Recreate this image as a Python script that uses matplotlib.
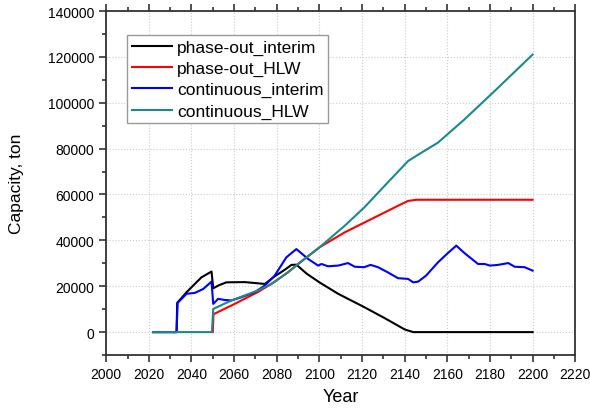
import matplotlib.pyplot as plt
from matplotlib.ticker import MultipleLocator

plt.rcParams.update({
    "font.family": ["Liberation Sans", "DejaVu Sans"],
    "font.size": 10,
})

# phase-out_interim
po_int_year = [2022, 2033, 2033.3, 2037.7, 2044.7, 2049.4, 2050.2, 2053, 2056.4, 2065,
               2074.4, 2079, 2083.8, 2086.9, 2089.2, 2094, 2100, 2108.8, 2121,
               2130.6, 2140, 2144, 2200]
po_int_val = [0, 0, 12750, 17400, 23900, 26400, 19100, 20500, 21700, 21800,
              21000, 24300, 27200, 29300, 29400, 25500, 21700, 16700, 10900,
              6100, 1160, 0, 0]

# phase-out_HLW
po_hlw_year = [2050, 2050.3, 2058.75, 2071, 2077.5, 2085.3, 2090, 2100, 2111.9,
               2124.4, 2136.9, 2141.6, 2145.5, 2200]
po_hlw_val = [0, 7800, 11600, 17400, 21000, 26100, 29700, 36950, 43500,
              49300, 55100, 57200, 57700, 57700]

# continuous_interim
co_int_year = [2022, 2033, 2033.5, 2037.7, 2041.6, 2045.5, 2049.4, 2050.2, 2052.5,
               2055.6, 2058.7, 2063.4, 2069.7, 2074.4, 2079, 2084.5, 2089.2,
               2094.7, 2099.4, 2101, 2104, 2108.8, 2113.4, 2116.6, 2121, 2124,
               2127.5, 2132, 2136.9, 2141.6, 2144, 2146.3, 2150, 2155.6, 2160.3,
               2164.2, 2168, 2174.4, 2177.5, 2180, 2183.75, 2188.6, 2191.6,
               2196.25, 2200]
co_int_val = [0, 0, 12750, 16700, 17100, 18800, 22000, 12300, 14500,
              14000, 13800, 15200, 17400, 20300, 24600, 32600, 36200,
              31900, 29000, 29700, 28700, 29000, 30100, 28500, 28300, 29300,
              28300, 26100, 23500, 23200, 21700, 22000, 24600, 30400, 34500,
              37700, 34500, 29700, 29700, 29000, 29300, 30100, 28500,
              28300, 26800]

# continuous_HLW
co_hlw_year = [2022, 2049.6, 2050.2, 2058.75, 2071, 2077.5, 2085.3, 2090, 2100,
               2111.9, 2121, 2130.6, 2141.6, 2147.8, 2155.6, 2168, 2183.75, 2200]
co_hlw_val = [0, 0, 10100, 13800, 18100, 21000, 26100, 29700, 36900,
              46400, 54300, 63800, 74600, 78200, 82600, 92700, 106500, 121000]

AXIS = "#333333"

fig = plt.figure(figsize=(5.9, 4.14), dpi=100)
ax = fig.add_axes([0.180, 0.140, 0.795, 0.831])

ax.plot(po_int_year, po_int_val, color="black", lw=1.5, label="phase-out_interim")
ax.plot(po_hlw_year, po_hlw_val, color="#ff0000", lw=1.5, label="phase-out_HLW")
ax.plot(co_int_year, co_int_val, color="#0000ff", lw=1.5, label="continuous_interim")
ax.plot(co_hlw_year, co_hlw_val, color="#1a8a8a", lw=1.5, label="continuous_HLW")

ax.set_xlim(2000, 2220)
ax.set_ylim(-10000, 140000)
ax.xaxis.set_major_locator(MultipleLocator(20))
ax.xaxis.set_minor_locator(MultipleLocator(10))
ax.yaxis.set_major_locator(MultipleLocator(20000))
ax.yaxis.set_minor_locator(MultipleLocator(10000))
ax.set_yticks(range(0, 140001, 20000))

ax.tick_params(which="both", direction="out", color=AXIS, width=1.2,
               top=True, right=False, labelsize=10)
ax.tick_params(which="major", length=5)
ax.tick_params(which="minor", length=3)
for s in ax.spines.values():
    s.set_color(AXIS)
    s.set_linewidth(1.3)

ax.grid(which="major", color="#cccccc", linestyle=":", linewidth=0.8)
ax.set_axisbelow(True)

ax.set_xlabel("Year", fontsize=13, labelpad=5)
ax.set_ylabel("Capacity, ton", fontsize=12.5, labelpad=17)

leg = ax.legend(loc="upper left", bbox_to_anchor=(0.045, 0.930), borderaxespad=0,
                fontsize=12.5, handlelength=2.35, handletextpad=0.25,
                labelspacing=0.35, fancybox=False, framealpha=1,
                borderpad=0.25)
leg.get_frame().set_edgecolor("#999999")
leg.get_frame().set_linewidth(1.0)

fig.savefig("out.png", dpi=100)
